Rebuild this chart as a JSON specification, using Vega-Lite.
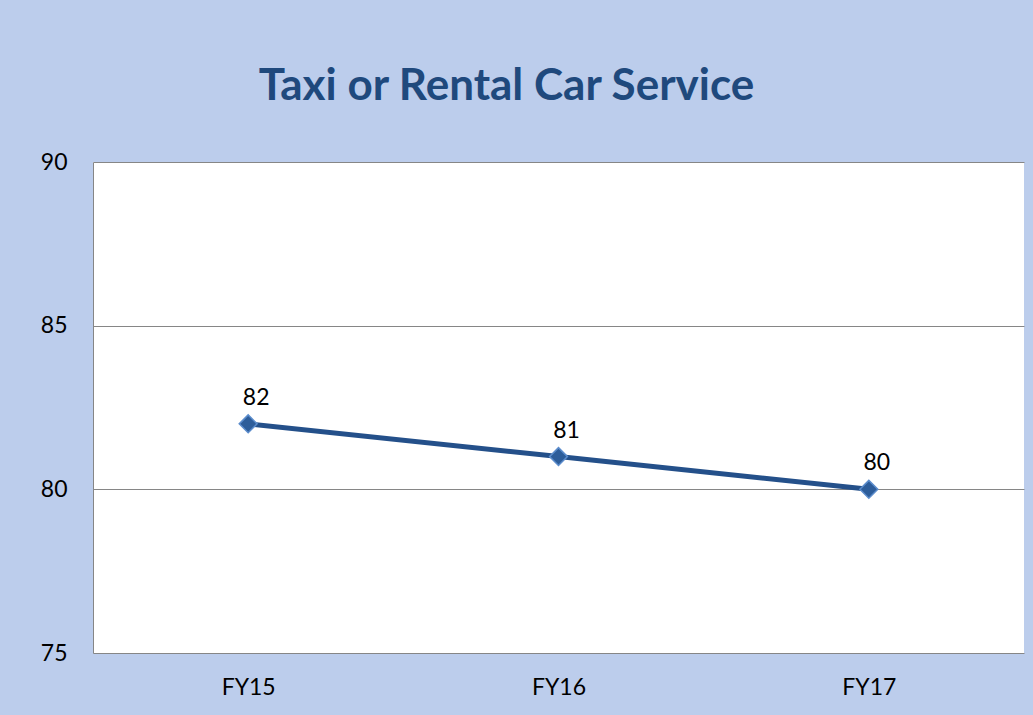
{
  "$schema": "https://vega.github.io/schema/vega-lite/v6.json",
  "width": 931,
  "height": 491,
  "autosize": {"type": "none"},
  "padding": {"left": 93, "top": 162, "right": 9, "bottom": 62},
  "background": "#bccdec",
  "title": {
    "text": "Taxi or Rental Car Service",
    "font": "Lato",
    "fontSize": 44,
    "fontWeight": "bold",
    "color": "#1f497d",
    "anchor": "middle",
    "dx": -52,
    "baseline": "alphabetic",
    "offset": 7
  },
  "config": {
    "view": {"fill": "white", "stroke": null},
    "axis": {
      "labelFont": "Lato",
      "labelFontSize": 23,
      "labelColor": "black",
      "ticks": false,
      "title": null,
      "gridColor": "#868686",
      "gridOpacity": 1,
      "domainColor": "#868686"
    }
  },
  "data": {
    "values": [
      {"year": "FY15", "value": 82},
      {"year": "FY16", "value": 81},
      {"year": "FY17", "value": 80}
    ]
  },
  "encoding": {
    "x": {
      "field": "year",
      "type": "ordinal",
      "scale": {"type": "point", "padding": 0.5},
      "axis": {"labelAngle": 0, "domain": false, "grid": false, "labelPadding": 23}
    },
    "y": {
      "field": "value",
      "type": "quantitative",
      "scale": {"domain": [75, 90], "nice": false, "zero": false},
      "axis": {"values": [75, 80, 85, 90], "grid": true, "domain": true, "labelPadding": 26}
    }
  },
  "layer": [
    {"mark": {"type": "line", "color": "#24508a", "strokeWidth": 5}},
    {"mark": {"type": "point", "shape": "diamond", "size": 320, "filled": true, "fill": "#2d5d9a", "stroke": "#5b8ccc", "strokeWidth": 1.5, "opacity": 1}},
    {"mark": {"type": "text", "font": "Lato", "fontSize": 23, "color": "black", "baseline": "bottom", "dy": -14, "dx": 8}, "encoding": {"text": {"field": "value", "type": "quantitative"}}}
  ]
}
